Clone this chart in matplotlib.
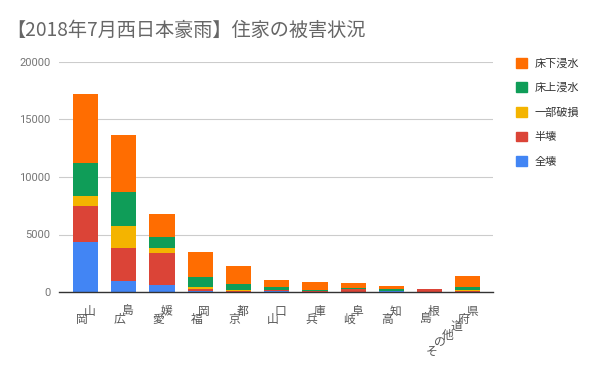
import matplotlib.pyplot as plt
from matplotlib.patches import Patch
from matplotlib.transforms import blended_transform_factory, offset_copy
import numpy as np

plt.rcParams['font.family'] = ['Noto Sans CJK JP', 'DejaVu Sans']

# 都道府県と被害件数
prefs = ['岡山', '広島', '愛媛', '福岡', '京都', '山口', '兵庫', '岐阜', '高知', '島根', 'その他道府県']
zenkai = [4350, 960, 580, 60, 20, 60, 20, 10, 60, 40, 20]
hankai = [3130, 2900, 2840, 180, 60, 110, 40, 230, 40, 200, 60]
ichibu = [870, 1890, 435, 170, 60, 0, 30, 0, 0, 0, 110]
yukaue = [2900, 2960, 930, 870, 580, 290, 80, 90, 150, 20, 230]
yukashita = [5950, 4960, 1975, 2220, 1540, 610, 700, 420, 300, 40, 930]

series = [('全壊', zenkai, '#4285F4'),
          ('半壊', hankai, '#DB4437'),
          ('一部破損', ichibu, '#F4B400'),
          ('床上浸水', yukaue, '#0F9D58'),
          ('床下浸水', yukashita, '#FF6D01')]

fig = plt.figure(figsize=(6, 3.71), dpi=100)
ax = fig.add_axes([59 / 600, 1 - 292 / 371, 434 / 600, 230 / 371])

x = np.arange(len(prefs))
bottom = np.zeros(len(prefs))
for name, vals, color in series:
    ax.bar(x, vals, width=0.654, bottom=bottom, color=color, label=name, zorder=3)
    bottom += np.array(vals)

ax.set_ylim(0, 20000)
ax.set_xlim(-0.693, 10.654)
ax.set_yticks([0, 5000, 10000, 15000, 20000])
ax.tick_params(axis='y', length=0, labelsize=8, labelcolor='#757575', pad=6)
for lab in ax.get_yticklabels():
    lab.set_family(['Roboto', 'DejaVu Sans'])
ax.set_xticks([])
ax.grid(axis='y', color='#cccccc', linewidth=0.8, zorder=0)
for s in ['top', 'right', 'left']:
    ax.spines[s].set_visible(False)
ax.spines['bottom'].set_color('#333333')
ax.spines['bottom'].set_linewidth(1)
ax.spines['bottom'].set_zorder(4)

# 斜めに並べた縦書き風のラベル
trans = blended_transform_factory(ax.transData, ax.transAxes)
for i, name in enumerate(prefs):
    n = len(name)
    for j, ch in enumerate(name):
        k = n - 1 - j
        t = offset_copy(trans, fig=fig, x=4 - 8 * k, y=-19 - 8 * k, units='dots')
        ax.text(i, 0, ch, transform=t, ha='center', va='center',
                fontsize=8.5, color='#555555')

fig.text(6 / 600, 1 - 30 / 371, '【2018年7月西日本豪雨】住家の被害状況',
         fontsize=13.8, color='#666666', va='center', ha='left')

handles = [Patch(color=c, label=n) for n, v, c in series[::-1]]
fig.legend(handles=handles, loc='upper left', bbox_to_anchor=(510 / 600, 1 - 52 / 371),
           frameon=False, fontsize=8, labelspacing=1.25, handlelength=1.0,
           handleheight=1.0, handletextpad=0.7, borderpad=0, labelcolor='#333333')

fig.savefig('out.png', dpi=100)
